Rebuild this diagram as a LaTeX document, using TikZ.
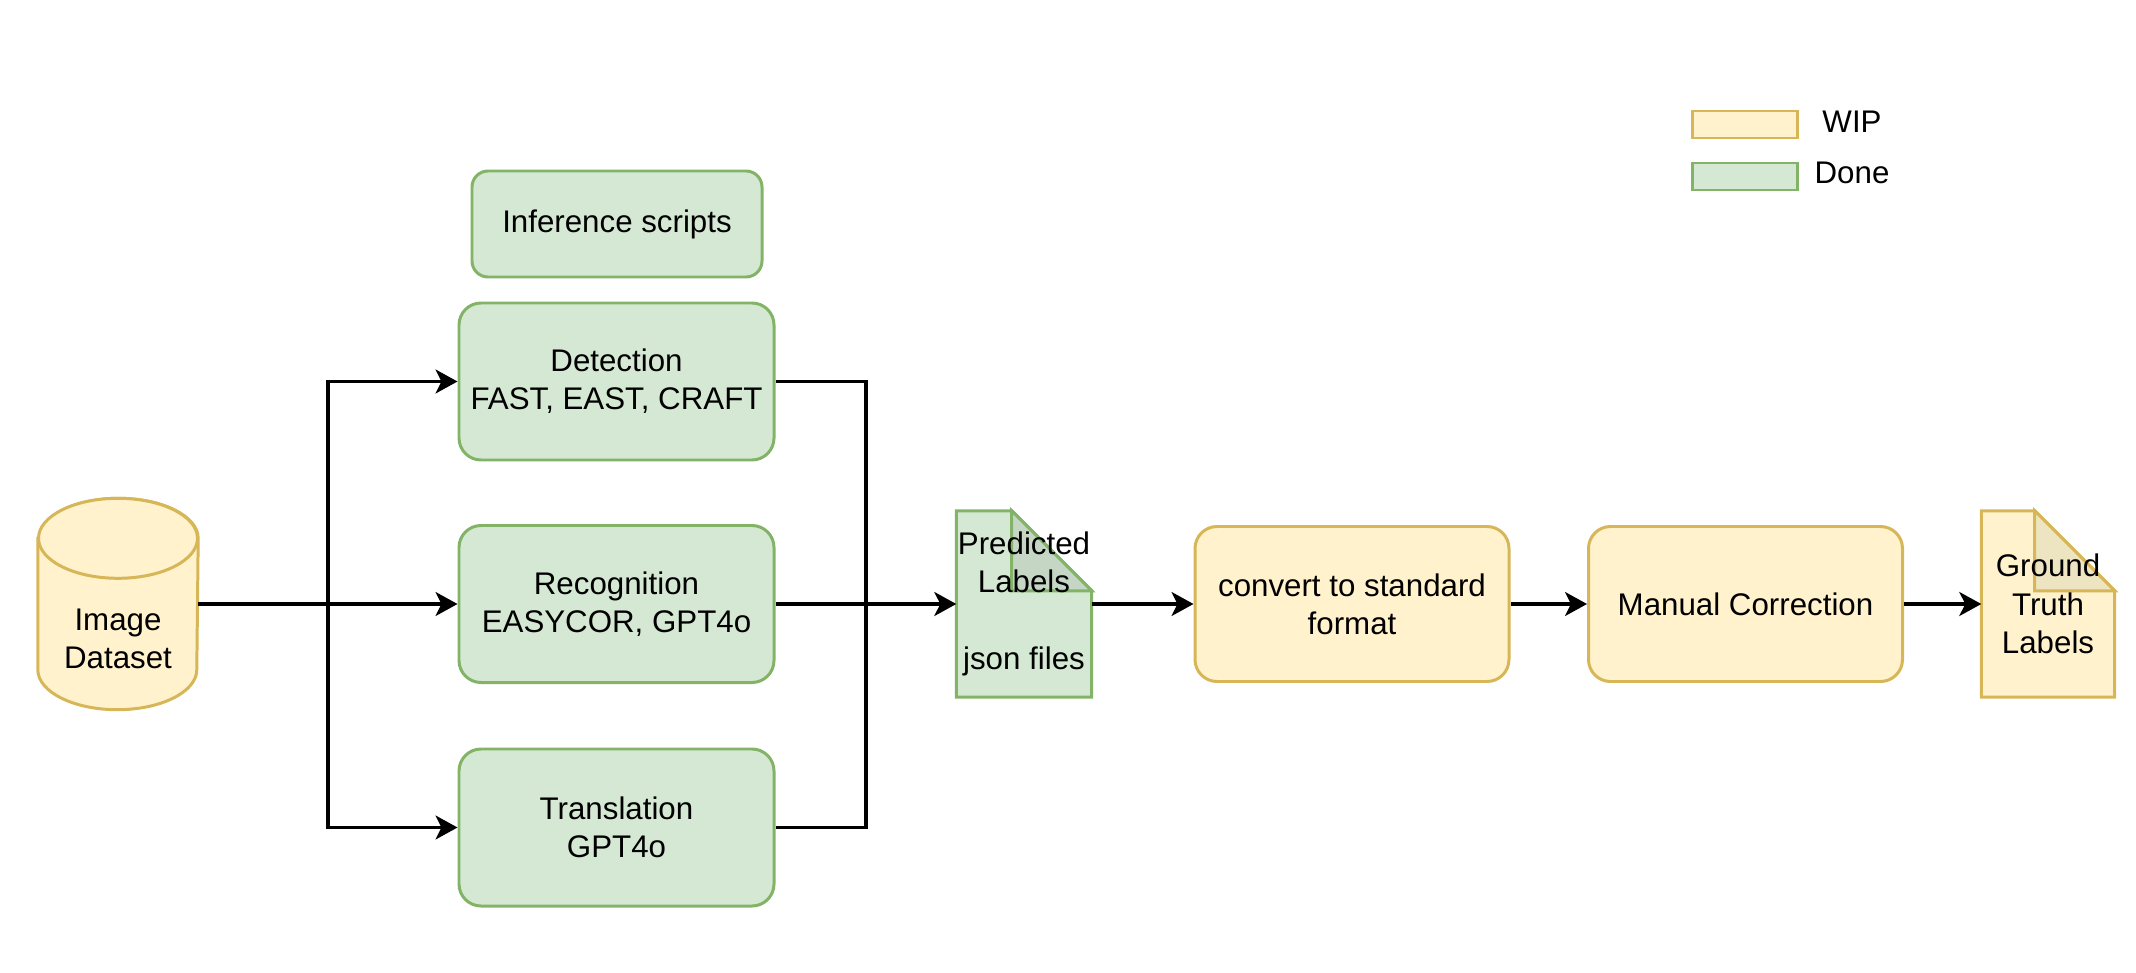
\documentclass[tikz,border=0pt]{standalone}
\usepackage{fontspec}
\setmainfont{Liberation Sans}
\usetikzlibrary{arrows.meta,backgrounds}
\definecolor{donefill}{HTML}{D5E8D4}
\definecolor{doneline}{HTML}{82B366}
\definecolor{donefold}{HTML}{C5D7C4}
\definecolor{wipfill}{HTML}{FFF2CC}
\definecolor{wipline}{HTML}{D6B656}
\definecolor{wipfold}{HTML}{EDE4C2}
\begin{document}
\begin{tikzpicture}[font=\fontsize{8.9}{10.9}\selectfont, done node/.style={draw=doneline, fill=donefill, line width=0.85pt, rounded corners=0.22cm, align=center, minimum width=3.15cm, minimum height=1.57cm, inner sep=2pt},wip node/.style={draw=wipline, fill=wipfill, line width=0.85pt, rounded corners=0.22cm, align=center, minimum width=3.14cm, minimum height=1.55cm, inner sep=2pt},note node/.style={align=center, inner sep=0pt, minimum width=1.34cm, minimum height=1.85cm},legend box/.style={line width=0.85pt, minimum width=1.05cm, minimum height=0.27cm, inner sep=0pt},wip shape/.style={draw=wipline, fill=wipfill, line width=0.85pt},flow/.style={line width=0.9pt, -{Stealth[length=0.22cm, width=0.24cm, inset=0.06cm]}},plain/.style={line width=0.9pt}]%
\useasboundingbox (0,0) rectangle (21.36,9.72);%
  % Legend%
\node[legend box, draw=wipline, fill=wipfill] (wipkey) at (17.445,8.475) {};%
\node[legend box, draw=doneline, fill=donefill] (donekey) at (17.445,7.955) {};%
\node (wiptext) at (18.52,8.50) {WIP};%
\node (donetext) at (18.52,7.99) {Done};%
  % Dataset%
\node[minimum width=1.59cm, minimum height=2.10cm, inner sep=0pt] (db) at (1.18,3.68) {};%
\draw[wip shape] ([yshift=-0.4cm]db.north west) -- ([yshift=0.4cm]db.south west) arc[start angle=180, end angle=360, x radius=0.795cm, y radius=0.4cm] -- ([yshift=-0.4cm]db.north east) arc[start angle=0, end angle=180, x radius=0.795cm, y radius=0.4cm] -- cycle;%
\draw[wip shape] ([yshift=-0.4cm]db.north) ellipse[x radius=0.795cm, y radius=0.4cm];%
\node[align=center] (dbtext) at ([yshift=-0.35cm]db.center) {Image\\Dataset};%
  % Inference%
\node[done node, minimum width=2.90cm, minimum height=1.06cm, rounded corners=0.16cm] (infer) at (6.17,7.48) {Inference scripts};%
\node[done node] (det) at (6.165,5.905) {Detection\\FAST, EAST, CRAFT};%
\node[done node] (rec) at (6.165,3.68) {Recognition\\EASYCOR, GPT4o};%
\node[done node] (trans) at (6.165,1.445) {Translation\\GPT4o};%
  % Labels%
\node[note node] (pred) at (10.24,3.68) {Predicted\\Labels\\[10.9pt]json files};%
\node[wip node] (conv) at (13.52,3.68) {convert to standard\\format};%
\node[wip node] (man) at (17.455,3.68) {Manual Correction};%
\node[note node, minimum width=1.32cm] (gt) at (20.48,3.68) {Ground\\Truth\\Labels};%
\begin{scope}[on background layer]%
\foreach \n/\c in {pred/done, gt/wip} {%
\draw[draw=\c line, fill=\c fill, line width=0.85pt] (\n.south west) -- (\n.north west) -- ([xshift=-0.8cm]\n.north east) -- ([yshift=-0.8cm]\n.north east) -- (\n.south east) -- cycle;%
\draw[draw=\c line, fill=\c fold, line width=0.85pt] ([xshift=-0.8cm]\n.north east) -- ([xshift=-0.8cm, yshift=-0.8cm]\n.north east) -- ([yshift=-0.8cm]\n.north east) -- cycle;%
}%
\end{scope}%
  % Connectors%
\coordinate (fork) at (3.28,3.68);%
\coordinate (join) at (8.66,3.68);%
\draw[flow] (db.east) -- (rec.west);%
\draw[flow] (fork) |- (det.west);%
\draw[flow] (fork) |- (trans.west);%
\draw[plain] (det.east) -| (join);%
\draw[plain] (trans.east) -| (join);%
\draw[flow] (rec.east) -- (pred.west);%
\draw[flow] (pred.east) -- (conv.west);%
\draw[flow] (conv.east) -- (man.west);%
\draw[flow] (man.east) -- (gt.west);%
\end{tikzpicture}
\end{document}
